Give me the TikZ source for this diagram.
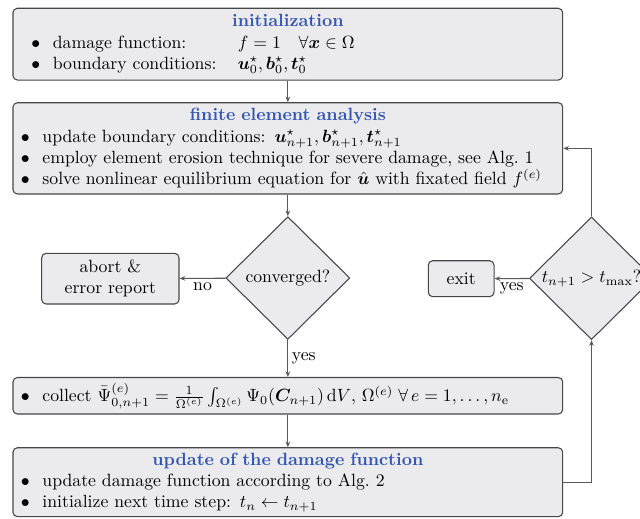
\documentclass[tikz,border=0pt]{standalone}
\usepackage{amsmath,amssymb,bm}
\usetikzlibrary{shapes.geometric,arrows.meta}
\definecolor{tblue}{RGB}{52,86,178}
\definecolor{boxfill}{RGB}{235,235,237}
\definecolor{boxdraw}{RGB}{70,70,70}
\newcommand\bul{\makebox[12.1pt][l]{$\bullet$}}
\newcommand\ttl[1]{\makebox[310.2pt][c]{\textbf{\color{tblue}#1}}}
\begin{document}
\begin{tikzpicture}[x=0.5643pt,y=-0.5643pt,
  box/.style={draw=boxdraw, fill=boxfill, line width=0.6pt, rounded corners=2.5pt, inner sep=0pt},
  wide/.style={box, text width=310.2pt, align=left},
  dec/.style={draw=boxdraw, fill=boxfill, line width=0.6pt, shape=diamond, minimum width=70pt, minimum height=69.2pt, inner sep=0pt},
  arr/.style={draw=black!65, line width=0.6pt, -{Stealth[length=3.2pt,width=2.6pt]}},
  lbl/.style={inner sep=2pt}]
\useasboundingbox (0,0) rectangle (640,518);

\node[wide, minimum height=40.5pt] (init) at (287.85,44.15) {%
\ttl{initialization}\\
\hspace*{10.4pt}\bul\makebox[104.4pt][l]{damage function:}$f=1\quad\forall\bm{x}\in\Omega$\\
\hspace*{10.4pt}\bul\makebox[104.4pt][l]{boundary conditions:}$\bm{u}_0^\star,\bm{b}_0^\star,\bm{t}_0^\star$};

\node[wide, minimum height=51.5pt] (fea) at (287.85,148.35) {%
\ttl{finite element analysis}\\
\hspace*{4.5pt}\bul update boundary conditions: $\bm{u}^\star_{n+1},\bm{b}^\star_{n+1},\bm{t}^\star_{n+1}$\\
\hspace*{4.5pt}\bul employ element erosion technique for severe damage, see Alg.~1\\
\hspace*{4.5pt}\bul solve nonlinear equilibrium equation for $\hat{\bm{u}}$ with fixated field $f^{(e)}$};

\node[dec] (conv) at (287.85,278) {converged?};
\node[box, minimum width=77.5pt, minimum height=28.6pt, align=center] (abort) at (110.35,278.65) {abort \&\\error report};
\node[dec] (tchk) at (591.5,278.3) {$t_{n+1}>t_{\max}$?};
\node[box, minimum width=37.1pt, minimum height=20.3pt] (exit) at (461.15,278.7) {exit};

\node[wide, minimum height=20.6pt] (col) at (287.85,395.75) {%
\hspace*{4.5pt}\bul collect $\bar{\Psi}^{(e)}_{0,n+1}=\frac{1}{\Omega^{(e)}}\int_{\Omega^{(e)}}\Psi_0(\bm{C}_{n+1})\,\mathrm{d}V$, $\Omega^{(e)}\;\forall\,e=1,\dots,n_\mathrm{e}$};

\node[wide, minimum height=38.9pt] (upd) at (287.85,482.2) {%
\ttl{update of the damage function}\\
\hspace*{4.5pt}\bul update damage function according to Alg.~2\\
\hspace*{4.5pt}\bul initialize next time step: $t_n\leftarrow t_{n+1}$};

\draw[arr] (init) -- (fea);
\draw[arr] (fea) -- (conv);
\draw[arr] (conv) -- node[lbl,below]{no} (abort);
\draw[arr] (conv) -- node[lbl,right]{yes} (col);
\draw[arr] (col) -- (upd);
\draw[arr] (upd.east) -- (upd.east -| tchk.south) -- (tchk.south);
\draw[arr] (tchk.north) -- (tchk.north |- fea.east) -- (fea.east);
\draw[arr] (tchk) -- node[lbl,below]{yes} (exit);
\end{tikzpicture}
\end{document}
